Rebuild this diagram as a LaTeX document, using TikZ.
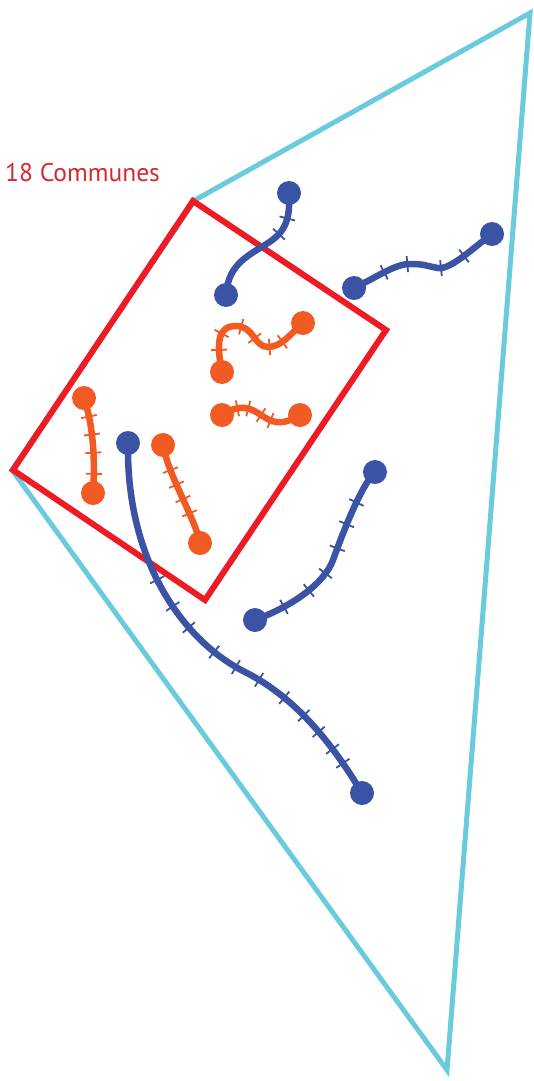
\documentclass[tikz,border=0pt]{standalone}
\usepackage{fontspec}
\setmainfont{PT Sans}
\usetikzlibrary{decorations.markings}
\definecolor{cblue}{HTML}{3A53A4}
\definecolor{corange}{HTML}{F15A22}
\definecolor{cred}{HTML}{ED1C24}
\definecolor{ccyan}{HTML}{6ACBDC}
\definecolor{ctext}{HTML}{D7282F}
\tikzset{
  tk/.style={postaction={decorate,decoration={markings,mark=at position #1 with {\draw[line width=1.8pt,line cap=butt] (0,-8) -- (0,8);}}}},
  bluecurve/.style={color=cblue,line width=6.5pt},
  orangecurve/.style={color=corange,line width=6.5pt},
  bdot/.style={circle,fill=cblue,inner sep=0pt,minimum size=24pt},
  odot/.style={circle,fill=corange,inner sep=0pt,minimum size=24pt},
}
\begin{document}
\begin{tikzpicture}[x=1pt,y=-1pt]
\useasboundingbox (0,0) rectangle (533,1081);
% triangle
\coordinate (t1) at (530,13);
\coordinate (t2) at (195,200);
\coordinate (t3) at (12,470);
\coordinate (t4) at (447,1070);
\draw[ccyan,line width=5pt,line join=miter] (t1) -- (t2) -- (t3) -- (t4) -- cycle;
% red square
\coordinate (r1) at (193,201);
\coordinate (r2) at (386,330);
\coordinate (r3) at (205,600);
\coordinate (r4) at (13,470);
\draw[cred,line width=6pt,line join=miter] (r1) -- (r2) -- (r3) -- (r4) -- cycle;
\node[ctext,anchor=base west,inner sep=0pt,font=\fontsize{25.5}{28}\selectfont] (lab) at (5,181) {18 Communes};
% endpoints and waypoints
\coordinate (b1a) at (289,193); \coordinate (b1m) at (260,248); \coordinate (b1b) at (226,295);
\coordinate (b2a) at (354,288); \coordinate (b2m1) at (410,264); \coordinate (b2m2) at (438,268); \coordinate (b2b) at (492,234);
\coordinate (b3a) at (128,443); \coordinate (b3m) at (245,672); \coordinate (b3b) at (362,793);
\coordinate (b4a) at (255,620); \coordinate (b4m) at (333,560); \coordinate (b4b) at (375,472);
\coordinate (o1a) at (222,372); \coordinate (o1m1) at (236,326); \coordinate (o1m2) at (268,347); \coordinate (o1b) at (303,323);
\coordinate (o2a) at (222,415); \coordinate (o2b) at (300,415);
\coordinate (o3a) at (84,398);  \coordinate (o3b) at (93,493);
\coordinate (o4a) at (163,445); \coordinate (o4b) at (200,543);
% blue curves
\draw[bluecurve,tk=0.2,tk=0.34] (b1a) .. controls +(2,35) and +(20,-12) .. (b1m) .. controls +(-20,12) and +(2,-25) .. (b1b);
\draw[bluecurve,tk=0.22,tk=0.38,tk=0.6,tk=0.77] (b2a) .. controls +(25,-12) and +(-15,0) .. (b2m1) .. controls +(15,0) and +(-12,-2) .. (b2m2) .. controls +(12,2) and +(-20,15) .. (b2b);
\draw[bluecurve,tk=0.32,tk=0.39,tk=0.45,tk=0.53,tk=0.59,tk=0.65,tk=0.72,tk=0.78,tk=0.83,tk=0.88,tk=0.92] (b3a) .. controls +(-2,120) and +(-60,-30) .. (b3m) .. controls +(50,25) and +(-30,-50) .. (b3b);
\draw[bluecurve,tk=0.16,tk=0.31,tk=0.43,tk=0.57,tk=0.7,tk=0.82] (b4a) .. controls +(40,-15) and +(-8,22) .. (b4m) .. controls +(8,-22) and +(-15,15) .. (b4b);
% orange curves
\draw[orangecurve,tk=0.16,tk=0.28,tk=0.44,tk=0.57,tk=0.7,tk=0.8] (o1a) .. controls +(-6,-30) and +(-18,0) .. (o1m1) .. controls +(18,0) and +(-14,0) .. (o1m2) .. controls +(14,0) and +(-12,10) .. (o1b);
\draw[orangecurve,tk=0.2,tk=0.33,tk=0.5,tk=0.63] (o2a) .. controls +(40,-25) and +(-40,25) .. (o2b);
\draw[orangecurve,tk=0.2,tk=0.39,tk=0.58,tk=0.8] (o3a) .. controls +(10,30) and +(2,-30) .. (o3b);
\draw[orangecurve,tk=0.25,tk=0.4,tk=0.55,tk=0.7] (o4a) .. controls +(5,30) and +(-5,-25) .. (o4b);
% dots
\foreach \n in {b1a,b1b,b2a,b2b,b3a,b3b,b4a,b4b} \node[bdot] (d\n) at (\n) {};
\foreach \n in {o1a,o1b,o2a,o2b,o3a,o3b,o4a,o4b} \node[odot] (d\n) at (\n) {};
\end{tikzpicture}
\end{document}
